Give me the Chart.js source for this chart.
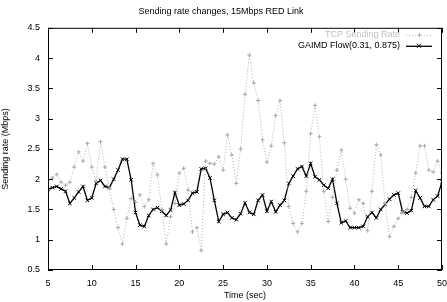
<!DOCTYPE html>
<html>
<head>
<meta charset="utf-8">
<script src="https://cdn.jsdelivr.net/npm/chart.js@4/dist/chart.umd.min.js"></script>
<style>
  html, body { margin: 0; padding: 0; background: #fff; }
  #wrap { width: 447px; height: 302px; }
</style>
</head>
<body>
<div id="wrap"><canvas id="rateChart" width="447" height="302"></canvas></div>
<script>
// time axis, one sample every 0.5 s
const times = [];
for (let i = 0; i <= 90; i++) times.push(5 + i * 0.5);

const tcpRate = [
  1.99, 2.02, 2.08, 1.95, 1.90, 1.95, 2.20, 2.45, 2.30, 2.59,
  2.20, 1.97, 2.62, 2.20, 1.85, 1.50, 1.20, 0.93, 1.35, 1.68,
  1.62, 1.74, 1.55, 1.66, 2.26, 2.07, 1.50, 0.93, 1.38, 1.60,
  2.10, 2.18, 1.82, 1.13, 1.20, 0.82, 2.30, 2.26, 2.25, 2.37,
  2.15, 2.73, 2.40, 1.93, 2.50, 3.40, 4.05, 3.59, 3.30, 2.65,
  2.28, 2.55, 3.05, 3.30, 2.60, 1.55, 1.27, 1.13, 1.27, 1.80,
  2.75, 3.22, 2.70, 1.80, 1.30, 1.70, 2.15, 2.48, 2.00, 1.52,
  1.44, 1.66, 1.60, 1.15, 1.80, 2.57, 2.40, 1.60, 1.05, 1.22,
  1.35, 1.45, 1.50, 1.70, 2.10, 2.55, 2.55, 2.15, 2.12, 2.30,
  2.10
];

const gaimdRate = [
  1.83, 1.86, 1.88, 1.84, 1.80, 1.60, 1.69, 1.79, 1.88, 1.65,
  1.69, 1.93, 1.98, 1.88, 1.86, 2.00, 2.15, 2.33, 2.33, 1.99,
  1.45, 1.24, 1.22, 1.40, 1.50, 1.53, 1.47, 1.40, 1.49, 1.78,
  1.57, 1.59, 1.65, 1.77, 1.79, 2.17, 2.18, 2.02, 1.65, 1.30,
  1.42, 1.45, 1.36, 1.33, 1.43, 1.61, 1.45, 1.42, 1.65, 1.74,
  1.47, 1.63, 1.46, 1.57, 1.65, 1.93, 2.05, 2.17, 2.21, 2.05,
  2.26, 2.04, 1.99, 1.90, 1.85, 2.00, 1.60, 1.28, 1.31, 1.20,
  1.20, 1.20, 1.22, 1.38, 1.45, 1.36, 1.50, 1.58, 1.67, 1.74,
  1.77, 1.46, 1.44, 1.48, 1.81, 1.69, 1.55, 1.55, 1.66, 1.72,
  1.96
];

const xTicks = [5, 10, 15, 20, 25, 30, 35, 40, 45, 50];
const yTicks = [0.5, 1, 1.5, 2, 2.5, 3, 3.5, 4, 4.5];
const seriesNames = ["TCP Sending Rate", "GAIMD Flow(0.31, 0.875)"];

const FONT = "'Liberation Sans', Arial, sans-serif";
Chart.defaults.font.family = FONT;
Chart.defaults.font.size = 9;
Chart.defaults.color = "#000";

// gnuplot style: frame, inward ticks on all sides, legend top right
const framePlugin = {
  id: "frame",
  afterDatasetsDraw(chart) {
    const { ctx, chartArea: a, scales } = chart;
    ctx.save();
    ctx.strokeStyle = "#000";
    ctx.lineWidth = 1;
    ctx.strokeRect(a.left + 0.5, a.top + 0.5, a.right - a.left - 1, a.bottom - a.top - 1);
    ctx.beginPath();
    xTicks.forEach(v => {
      const x = Math.round(scales.x.getPixelForValue(v)) + 0.5;
      ctx.moveTo(x, a.bottom); ctx.lineTo(x, a.bottom - 5);
      ctx.moveTo(x, a.top); ctx.lineTo(x, a.top + 5);
    });
    yTicks.forEach(v => {
      const y = Math.round(scales.y.getPixelForValue(v)) + 0.5;
      ctx.moveTo(a.left, y); ctx.lineTo(a.left + 5, y);
      ctx.moveTo(a.right, y); ctx.lineTo(a.right - 5, y);
    });
    ctx.stroke();

    // legend
    ctx.font = "9px " + FONT;
    ctx.textAlign = "right";
    ctx.textBaseline = "middle";
    const tx = a.right - 42, sx0 = a.right - 36, sx1 = a.right - 10;
    const rows = [a.top + 7, a.top + 18];
    chart.data.datasets.forEach((ds, i) => {
      const y = rows[i];
      ctx.fillStyle = i === 0 ? "#c0c0c0" : "#000";
      ctx.fillText(ds.label, tx, y);
      ctx.strokeStyle = ds.borderColor;
      ctx.lineWidth = ds.borderWidth;
      ctx.setLineDash(ds.borderDash || []);
      ctx.beginPath();
      ctx.moveTo(sx0, y + 0.5); ctx.lineTo(sx1, y + 0.5);
      ctx.stroke();
      ctx.setLineDash([]);
      const m = (sx0 + sx1) / 2;
      ctx.lineWidth = 1;
      ctx.beginPath();
      if (i === 0) {
        ctx.moveTo(m - 2, y + 0.5); ctx.lineTo(m + 2, y + 0.5);
        ctx.moveTo(m + 0.5, y - 2); ctx.lineTo(m + 0.5, y + 2);
      } else {
        ctx.moveTo(m - 2, y - 2); ctx.lineTo(m + 2, y + 2);
        ctx.moveTo(m - 2, y + 2); ctx.lineTo(m + 2, y - 2);
      }
      ctx.stroke();
    });
    ctx.restore();
  }
};

const ctx = document.getElementById("rateChart").getContext("2d");
new Chart(ctx, {
  type: "line",
  data: {
    datasets: [
      {
        label: seriesNames[0],
        data: times.map((t, i) => ({ x: t, y: tcpRate[i] })),
        borderColor: "#b0b0b0",
        borderWidth: 1,
        borderDash: [1, 2],
        pointStyle: "cross",
        pointRadius: 2,
        pointBorderColor: "#a8a8a8",
        pointBorderWidth: 1,
        tension: 0
      },
      {
        label: seriesNames[1],
        data: times.map((t, i) => ({ x: t, y: gaimdRate[i] })),
        borderColor: "#000",
        borderWidth: 1.3,
        pointStyle: "crossRot",
        pointRadius: 2.5,
        pointBorderColor: "#000",
        pointBorderWidth: 1,
        tension: 0
      }
    ]
  },
  options: {
    responsive: false,
    animation: false,
    layout: { padding: { right: 5 } },
    plugins: {
      legend: { display: false },
      tooltip: { enabled: false },
      title: {
        display: true,
        text: "Sending rate changes, 15Mbps RED Link",
        font: { size: 9, weight: "normal" },
        padding: { top: 6, bottom: 11 }
      }
    },
    scales: {
      x: {
        type: "linear",
        min: 5, max: 50,
        afterBuildTicks: s => { s.ticks = xTicks.map(v => ({ value: v })); },
        afterFit: s => { s.height = 32; s.paddingLeft = 0; s.paddingRight = 0; },
        grid: { display: false, drawTicks: false },
        border: { display: false },
        ticks: { padding: 8, callback: v => String(v), maxRotation: 0 },
        title: { display: true, text: "Time (sec)", padding: { top: 0, bottom: 1 } }
      },
      y: {
        type: "linear",
        min: 0.5, max: 4.5,
        afterBuildTicks: s => { s.ticks = yTicks.map(v => ({ value: v })); },
        afterFit: s => { s.width = 48; s.paddingTop = 0; s.paddingBottom = 0; },
        grid: { display: false, drawTicks: false },
        border: { display: false },
        ticks: { padding: 8, callback: v => String(v) },
        title: { display: true, text: "Sending rate (Mbps)", padding: { top: 0, bottom: 0 } }
      }
    }
  },
  plugins: [framePlugin]
});
</script>
</body>
</html>
